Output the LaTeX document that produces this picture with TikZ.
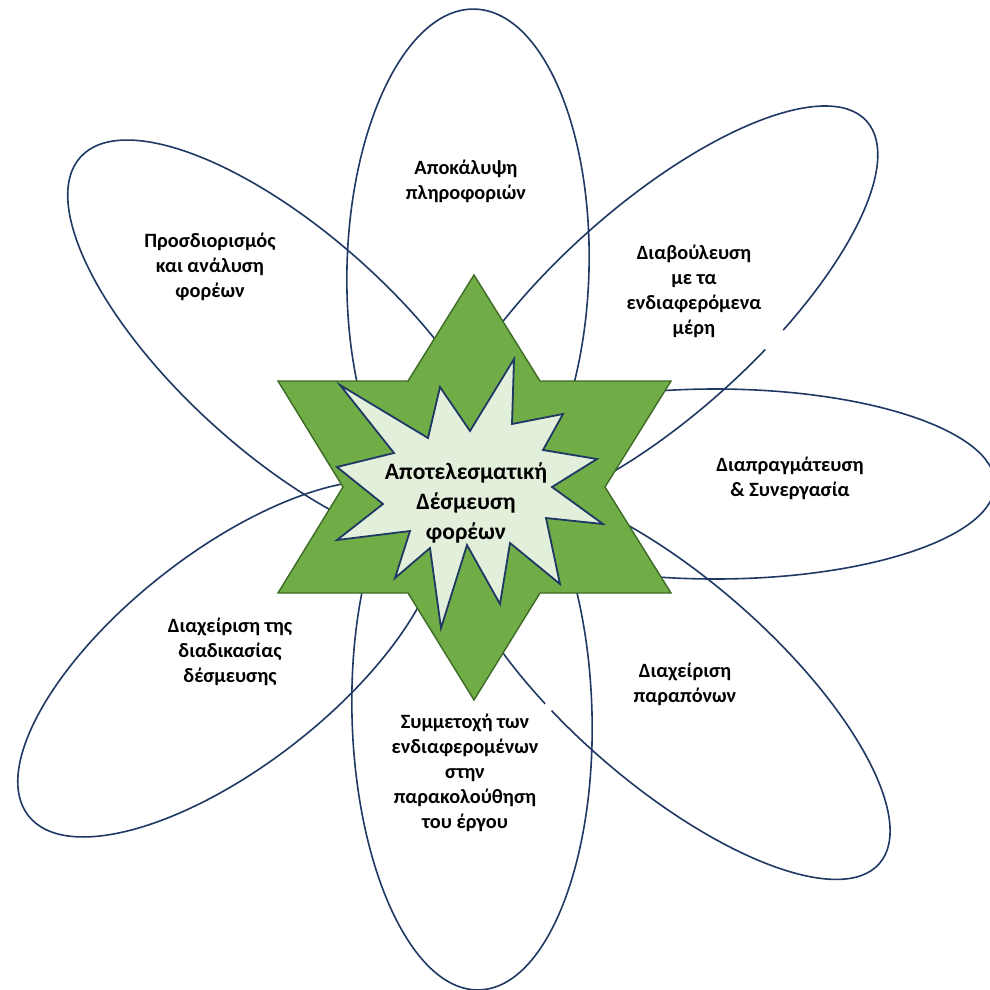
\documentclass[tikz,border=0pt]{standalone}
\usepackage{fontspec}
\setmainfont{Carlito}
\definecolor{navy}{HTML}{203864}
\definecolor{stargreen}{HTML}{70AD47}
\definecolor{starline}{HTML}{3D6B26}
\definecolor{burstfill}{HTML}{E2EFDA}
\tikzset{
  petal/.style={draw=navy, line width=1.6pt},
  petaltext/.style={align=center, font=\fontsize{20.3}{25}\selectfont\bfseries, inner sep=0pt},
  centertext/.style={align=center, font=\fontsize{23.5}{30}\selectfont\bfseries, inner sep=0pt},
  gapline/.style={draw=white, line width=4.5pt},
  starshape/.style={fill=stargreen, draw=starline, line width=1.4pt, line join=miter},
  burstshape/.style={fill=burstfill, draw=navy, line width=1.8pt, line join=miter}
}
\begin{document}
\begin{tikzpicture}[x=1pt,y=-1pt]
\useasboundingbox (0,0) rectangle (990,989);
\fill[white] (0,0) rectangle (990,989);

% petals
\draw[petal, rotate around={-1.5:(468,268)}] (468,268) ellipse [x radius=121, y radius=259];
\draw[petal, rotate around={1.5:(472,715)}] (472,715) ellipse [x radius=120, y radius=275];
\draw[petal] (715,484) ellipse [x radius=280, y radius=95];
\draw[petal, rotate around={-42:(288.5,344.5)}] (288.5,344.5) ellipse [x radius=280, y radius=110];
\draw[petal, rotate around={42:(654.8,311.8)}] (654.8,311.8) ellipse [x radius=285, y radius=104];
\draw[petal, rotate around={-41:(669.6,681.1)}] (669.6,681.1) ellipse [x radius=278, y radius=103];
\draw[petal, rotate around={38:(229.3,658.7)}] (229.3,658.7) ellipse [x radius=255, y radius=107];

% small breaks in two outlines
\draw[gapline] (765.4,349.4) -- (783.1,330.2);
\draw[gapline] (545.3,703.8) -- (551.3,710.5);

% six-pointed star
\draw[starshape] (474,275) -- (540,381) -- (671,381) -- (605,487) -- (671,593) -- (540,593)
  -- (474,700) -- (408,593) -- (278,593) -- (343,487) -- (278,381) -- (408,381) -- cycle;

% burst
\draw[burstshape] (514,359) -- (512,424) -- (563,414) -- (543,450) -- (597,459) -- (552,487)
  -- (603,524) -- (546,518) -- (560,584) -- (510,543) -- (500,604) -- (467,545)
  -- (441,628) -- (430,548) -- (395,578) -- (410,531) -- (337,540) -- (383,504)
  -- (337,467) -- (394,453) -- (340,385) -- (428,438) -- (440,387) -- (470,431) -- cycle;

% texts
\node[centertext] (core) at (466,503) {Αποτελεσματική\\Δέσμευση\\φορέων};
\node[petaltext] (tA) at (466,181) {Αποκάλυψη\\πληροφοριών};
\node[petaltext] (tD) at (210,267) {Προσδιορισμός\\και ανάλυση\\φορέων};
\node[petaltext] (tE) at (694,291) {Διαβούλευση\\με τα\\ενδιαφερόμενα\\μέρη};
\node[petaltext] (tC) at (790,478) {Διαπραγμάτευση\\\& Συνεργασία};
\node[petaltext] (tG) at (685,684) {Διαχείριση\\παραπόνων};
\node[petaltext] (tB) at (465,773) {Συμμετοχή των\\ενδιαφερομένων\\στην\\παρακολούθηση\\του έργου};
\node[petaltext] (tF) at (230,652) {Διαχείριση της\\διαδικασίας\\δέσμευσης};
\end{tikzpicture}
\end{document}
